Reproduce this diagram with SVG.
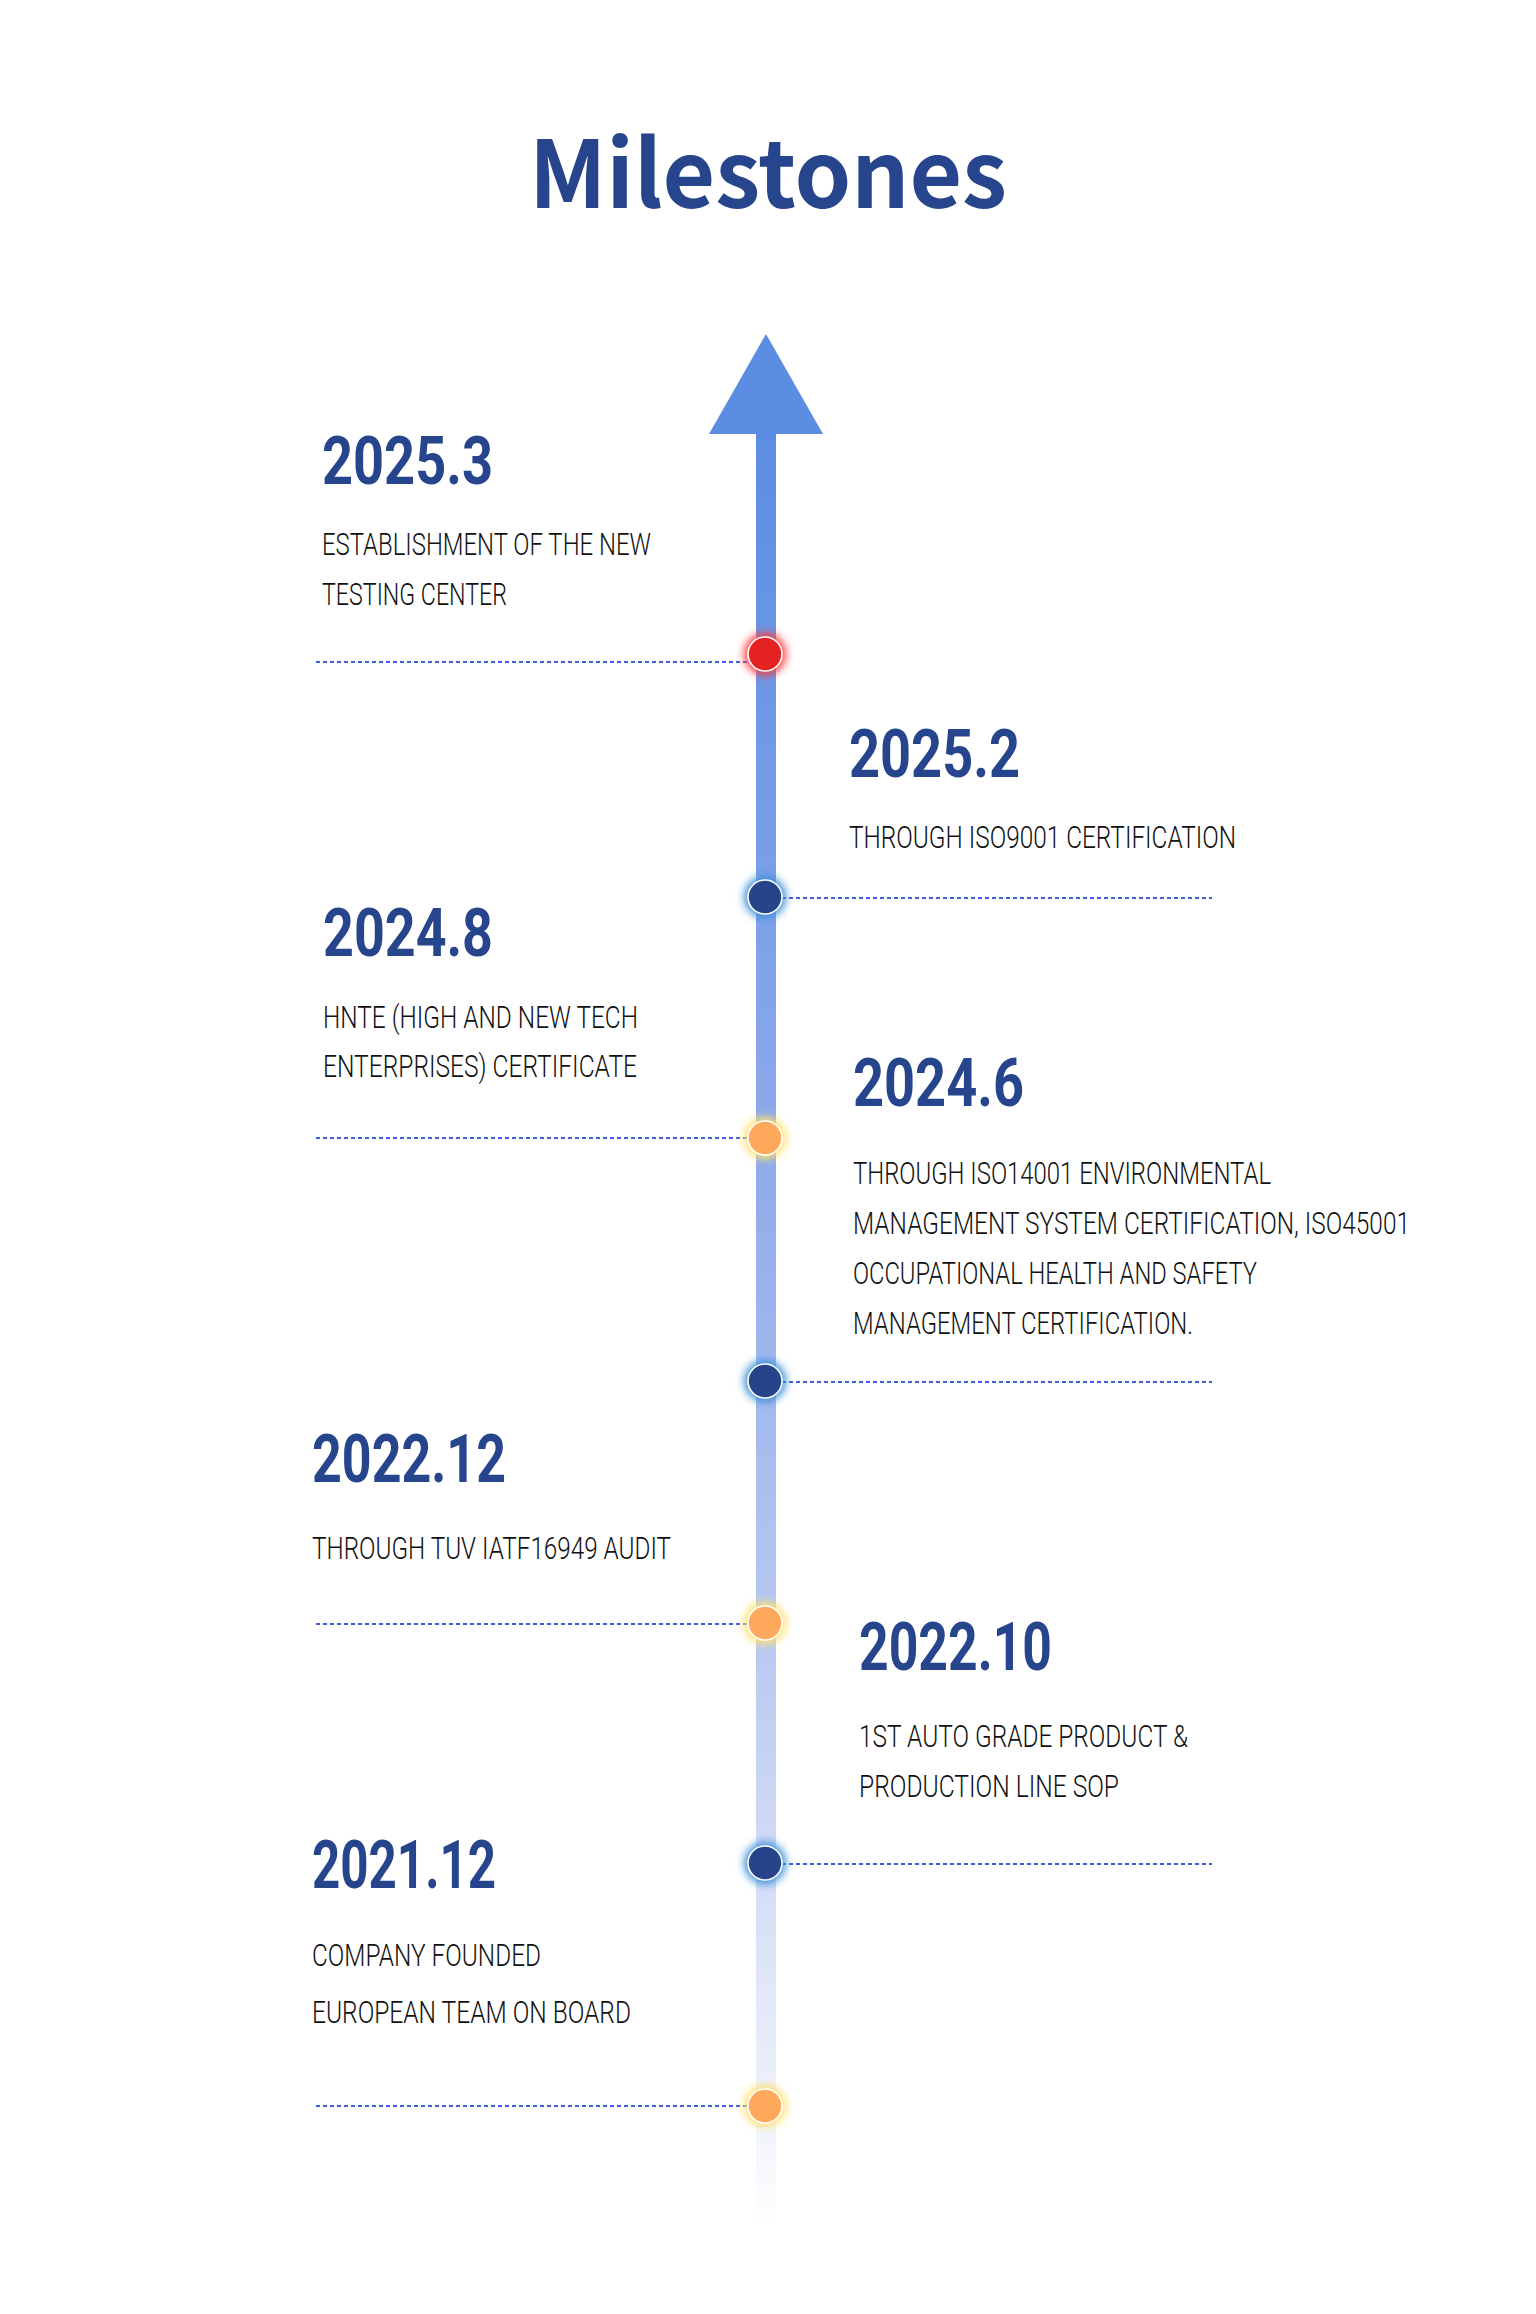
<svg xmlns="http://www.w3.org/2000/svg" width="1536" height="2314" viewBox="0 0 1536 2314">
<style>
.title{font-family:"Noto Sans CJK SC","Noto Sans",sans-serif;font-weight:700;font-size:93px;fill:#27458c}
.yr{font-family:Roboto,"Liberation Sans",sans-serif;font-weight:700;font-size:66px;fill:#27458c}
.ds{font-family:Roboto,"Liberation Sans",sans-serif;font-weight:300;font-size:32px;fill:#111111}
.dot{stroke:#ffffff;stroke-width:1.6}
.conn{stroke:#3f5fe0;stroke-width:2;stroke-dasharray:4 3;fill:none}
</style>
<defs>
<linearGradient id="shaft" gradientUnits="userSpaceOnUse" x1="0" y1="430" x2="0" y2="2228">
<stop offset="0" stop-color="#5b8de3"/>
<stop offset="0.4" stop-color="#8eaaea"/>
<stop offset="0.67" stop-color="#b8c8f1"/>
<stop offset="0.8" stop-color="#d4dcf6"/>
<stop offset="0.93" stop-color="#eef1fb"/>
<stop offset="1" stop-color="#ffffff"/>
</linearGradient>
<filter id="glow" x="-1" y="-1" width="3" height="3"><feGaussianBlur stdDeviation="4"/></filter>
</defs>
<rect width="1536" height="2314" fill="#ffffff"/>
<text class="title" x="529" y="208" textLength="478" lengthAdjust="spacingAndGlyphs">Milestones</text>

<g id="timeline">
<rect x="756" y="430" width="20" height="1798" fill="url(#shaft)"/>
<polygon points="766,334 709,434 823,434" fill="#5b8de3"/>
</g>

<g id="connectors">
<line class="conn" x1="316" y1="662" x2="748" y2="662"/>
<line class="conn" x1="782" y1="898" x2="1212" y2="898"/>
<line class="conn" x1="316" y1="1138" x2="748" y2="1138"/>
<line class="conn" x1="782" y1="1382" x2="1212" y2="1382"/>
<line class="conn" x1="316" y1="1624" x2="748" y2="1624"/>
<line class="conn" x1="782" y1="1864" x2="1212" y2="1864"/>
<line class="conn" x1="316" y1="2106" x2="748" y2="2106"/>
</g>

<g id="m2025-3">
<circle cx="765" cy="654" r="21" fill="#ff3a3a" filter="url(#glow)"/>
<circle class="dot" cx="765" cy="654" r="17" fill="#e52222"/>
<text class="yr" x="322" y="484" textLength="171" lengthAdjust="spacingAndGlyphs">2025.3</text>
<text class="ds" x="322" y="555" textLength="329" lengthAdjust="spacingAndGlyphs">ESTABLISHMENT OF THE NEW</text>
<text class="ds" x="322" y="605" textLength="185" lengthAdjust="spacingAndGlyphs">TESTING CENTER</text>
</g>

<g id="m2025-2">
<circle cx="765" cy="897" r="21" fill="#3d8fd6" filter="url(#glow)"/>
<circle class="dot" cx="765" cy="897" r="17" fill="#27448b"/>
<text class="yr" x="849" y="777" textLength="171" lengthAdjust="spacingAndGlyphs">2025.2</text>
<text class="ds" x="849" y="848" textLength="387" lengthAdjust="spacingAndGlyphs">THROUGH ISO9001 CERTIFICATION</text>
</g>

<g id="m2024-8">
<circle cx="765" cy="1138" r="21" fill="#ffe16e" filter="url(#glow)"/>
<circle class="dot" cx="765" cy="1138" r="17" fill="#fda85a"/>
<text class="yr" x="323" y="956" textLength="170" lengthAdjust="spacingAndGlyphs">2024.8</text>
<text class="ds" x="323" y="1028" textLength="315" lengthAdjust="spacingAndGlyphs">HNTE (HIGH AND NEW TECH</text>
<text class="ds" x="323" y="1077" textLength="314" lengthAdjust="spacingAndGlyphs">ENTERPRISES) CERTIFICATE</text>
</g>

<g id="m2024-6">
<circle cx="765" cy="1381" r="21" fill="#3d8fd6" filter="url(#glow)"/>
<circle class="dot" cx="765" cy="1381" r="17" fill="#27448b"/>
<text class="yr" x="853" y="1106" textLength="171" lengthAdjust="spacingAndGlyphs">2024.6</text>
<text class="ds" x="853" y="1184" textLength="418" lengthAdjust="spacingAndGlyphs">THROUGH ISO14001 ENVIRONMENTAL</text>
<text class="ds" x="853" y="1234" textLength="557" lengthAdjust="spacingAndGlyphs">MANAGEMENT SYSTEM CERTIFICATION, ISO45001</text>
<text class="ds" x="853" y="1284" textLength="404" lengthAdjust="spacingAndGlyphs">OCCUPATIONAL HEALTH AND SAFETY</text>
<text class="ds" x="853" y="1334" textLength="340" lengthAdjust="spacingAndGlyphs">MANAGEMENT CERTIFICATION.</text>
</g>

<g id="m2022-12">
<circle cx="765" cy="1623" r="21" fill="#ffe16e" filter="url(#glow)"/>
<circle class="dot" cx="765" cy="1623" r="17" fill="#fda85a"/>
<text class="yr" x="312" y="1482" textLength="194" lengthAdjust="spacingAndGlyphs">2022.12</text>
<text class="ds" x="312" y="1559" textLength="359" lengthAdjust="spacingAndGlyphs">THROUGH TUV IATF16949 AUDIT</text>
</g>

<g id="m2022-10">
<circle cx="765" cy="1863" r="21" fill="#3d8fd6" filter="url(#glow)"/>
<circle class="dot" cx="765" cy="1863" r="17" fill="#27448b"/>
<text class="yr" x="859" y="1670" textLength="193" lengthAdjust="spacingAndGlyphs">2022.10</text>
<text class="ds" x="859" y="1747" textLength="329" lengthAdjust="spacingAndGlyphs">1ST AUTO GRADE PRODUCT &amp;</text>
<text class="ds" x="859" y="1797" textLength="260" lengthAdjust="spacingAndGlyphs">PRODUCTION LINE SOP</text>
</g>

<g id="m2021-12">
<circle cx="765" cy="2106" r="21" fill="#ffe16e" filter="url(#glow)"/>
<circle class="dot" cx="765" cy="2106" r="17" fill="#fda85a"/>
<text class="yr" x="312" y="1888" textLength="184" lengthAdjust="spacingAndGlyphs">2021.12</text>
<text class="ds" x="312" y="1966" textLength="229" lengthAdjust="spacingAndGlyphs">COMPANY FOUNDED</text>
<text class="ds" x="312" y="2023" textLength="319" lengthAdjust="spacingAndGlyphs">EUROPEAN TEAM ON BOARD</text>
</g>
</svg>
